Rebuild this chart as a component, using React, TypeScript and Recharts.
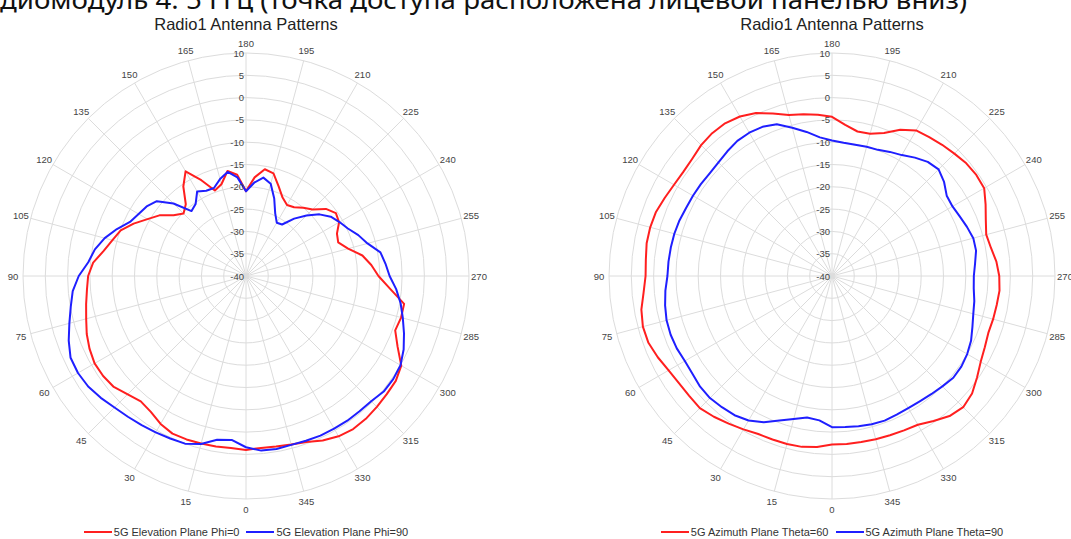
import {
  PolarAngleAxis,
  PolarGrid,
  PolarRadiusAxis,
  Radar,
  RadarChart,
} from "recharts";

// angles in degrees, 5° step
const angles = [
  0, 5, 10, 15, 20, 25, 30, 35, 40, 45, 50, 55, 60, 65, 70, 75, 80, 85, 90, 95,
  100, 105, 110, 115, 120, 125, 130, 135, 140, 145, 150, 155, 160, 165, 170,
  175, 180, 185, 190, 195, 200, 205, 210, 215, 220, 225, 230, 235, 240, 245,
  250, 255, 260, 265, 270, 275, 280, 285, 290, 295, 300, 305, 310, 315, 320,
  325, 330, 335, 340, 345, 350, 355,
];

// left chart: 5G elevation plane (dB)
const elevPhi0 = [
  -1.0, -1.3, -1.2, -1.1, -1.0, -1.0, -1.7, -2.8, -3.3, -2.5, -1.3, -0.9, -0.8,
  -1.3, -2.0, -2.9, -3.6, -4.2, -4.6, -5.6, -7.6, -9.0, -10.1, -12.2, -14.5,
  -16.3, -18.8, -20.2, -19.0, -15.5, -12.9, -16.3, -19.6, -18.7, -16.1, -17.2,
  -21.0, -17.8, -15.7, -16.2, -18.6, -20.6, -21.6, -21.2, -20.0, -18.9, -16.6,
  -15.4, -15.9, -17.5, -18.0, -16.3, -13.5, -11.8, -10.3, -7.6, -4.0, -4.0,
  -4.4, -2.5, 0.2, 1.0, 1.2, 1.5, 1.8, 1.9, 1.5, 0.7, -0.4, -0.9, -1.2, -1.3,
];
const elevPhi90 = [
  -1.6, -3.1, -2.7, -1.0, 0.0, 0.2, 0.5, 0.8, 1.2, 1.7, 2.5, 3.2, 3.5, 3.4, 2.3,
  1.0, -0.1, -1.0, -2.5, -4.5, -5.6, -7.2, -9.2, -11.3, -12.2, -12.8, -13.9,
  -17.0, -21.0, -20.3, -18.1, -18.9, -19.0, -17.5, -16.3, -17.8, -21.0, -19.0,
  -17.6, -18.6, -21.5, -24.5, -26.2, -25.9, -23.2, -20.8, -18.5, -16.8, -15.8,
  -14.8, -13.2, -11.8, -9.4, -8.6, -7.8, -6.2, -4.8, -3.6, -2.3, -1.0, 0.0, 0.3,
  0.3, -0.3, -0.4, -0.4, -0.5, -0.5, -0.7, -0.8, -0.6, -0.7,
];

// right chart: 5G azimuth plane (dB)
const aziTheta60 = [
  -2.2, -1.5, -1.1, -1.0, -1.0, -0.9, -0.3, 0.4, 1.2, 1.9, 1.8, 1.9, 2.3, 3.1,
  3.8, 3.9, 3.4, 2.4, 1.8, 1.9, 2.2, 2.2, 2.0, 1.4, 0.9, 0.7, 0.9, 1.5, 1.8, 1.8,
  1.3, 0.3, -1.2, -2.6, -3.2, -3.7, -4.3, -6.0, -7.1, -7.0, -5.9, -3.8, -2.3,
  -2.0, -1.6, -1.2, -0.7, -0.5, -0.6, -2.0, -3.3, -4.2, -3.8, -3.0, -2.5, -2.3,
  -2.5, -2.6, -2.7, -2.2, -1.5, -0.3, 1.0, 1.6, 1.0, -0.3, -1.5, -1.8, -2.0,
  -2.1, -2.2, -2.2,
];
const aziTheta90 = [
  -6.1, -7.5, -7.8, -6.8, -5.5, -3.8, -2.6, -1.9, -1.6, -1.3, -1.4, -1.8, -1.9,
  -1.6, -1.5, -1.6, -2.0, -2.5, -3.1, -3.2, -3.3, -3.4, -3.6, -3.9, -4.0, -4.1,
  -4.2, -4.0, -3.5, -3.0, -2.9, -3.1, -3.8, -5.6, -7.2, -8.8, -9.6, -10.0, -10.1,
  -10.0, -9.9, -9.3, -8.7, -7.6, -6.6, -6.2, -7.2, -8.6, -8.8, -8.4, -7.8, -7.2,
  -7.2, -7.8, -8.2, -8.1, -7.6, -7.2, -6.5, -5.6, -5.0, -4.6, -4.5, -5.0, -5.4,
  -5.7, -5.8, -5.7, -5.5, -5.6, -5.8, -6.0,
];

const angleTicks = [
  0, 15, 30, 45, 60, 75, 90, 105, 120, 135, 150, 165, 180, 195, 210, 225, 240,
  255, 270, 285, 300, 315, 330, 345,
];
const radiusTicks = [-40, -35, -30, -25, -20, -15, -10, -5, 0, 5, 10];

const RED = "#ff1f1f";
const BLUE = "#1f1fff";
const FONT = "'Liberation Sans', Arial, sans-serif";

const AngleTick = (props: any) => {
  const { x, y, payload } = props;
  return (
    <text
      x={x}
      y={y}
      textAnchor="middle"
      dominantBaseline="central"
      fontSize={9.5}
      fontFamily={FONT}
      fill="#444"
    >
      {payload.value}
    </text>
  );
};

const RadiusTick = (props: any) => {
  const { x, y, payload } = props;
  return (
    <text
      x={x - 2}
      y={y}
      textAnchor="end"
      dominantBaseline="central"
      fontSize={9.5}
      fontFamily={FONT}
      fill="#444"
    >
      {payload.value}
    </text>
  );
};

function PolarPanel({ left, title, a, b, nameA, nameB }) {
  const data = angles.map((ang, i) => ({ angle: ang, a: a[i], b: b[i] }));
  return (
    <div style={{ position: "absolute", left, top: 0, width: 492, height: 539 }}>
      <div
        style={{
          position: "absolute",
          top: 15,
          left: 0,
          width: 492,
          textAlign: "center",
          fontFamily: FONT,
          fontSize: 16.5,
          color: "#222",
        }}
      >
        {title}
      </div>
      <RadarChart
        width={492}
        height={539}
        data={data}
        cx={246}
        cy={276}
        outerRadius={223}
        startAngle={-90}
        endAngle={-450}
        style={{ position: "absolute", left: 0, top: 0 }}
      >
        <PolarGrid gridType="circle" stroke="#dcdcdc" />
        <PolarAngleAxis
          dataKey="angle"
          type="number"
          domain={[0, 360]}
          ticks={angleTicks}
          tick={AngleTick}
          tickLine={false}
          axisLine={false}
          tickSize={10}
        />
        <PolarRadiusAxis
          angle={90}
          type="number"
          domain={[-40, 10]}
          ticks={radiusTicks}
          tickCount={11}
          tick={RadiusTick}
          axisLine={false}
          tickLine={false}
          allowDataOverflow
        />
        <Radar
          name={nameA}
          dataKey="a"
          stroke={RED}
          strokeWidth={2}
          strokeLinejoin="round"
          fill="none"
          fillOpacity={0}
          dot={false}
          isAnimationActive={false}
        />
        <Radar
          name={nameB}
          dataKey="b"
          stroke={BLUE}
          strokeWidth={2}
          strokeLinejoin="round"
          fill="none"
          fillOpacity={0}
          dot={false}
          isAnimationActive={false}
        />
      </RadarChart>
      <div
        style={{
          position: "absolute",
          top: 526,
          left: 0,
          width: 492,
          display: "flex",
          justifyContent: "center",
          alignItems: "center",
          fontFamily: FONT,
          fontSize: 11,
          color: "#333",
          whiteSpace: "nowrap",
        }}
      >
        <span style={{ width: 28, height: 2, background: RED, marginRight: 2 }} />
        <span style={{ marginRight: 7 }}>{nameA}</span>
        <span style={{ width: 28, height: 2, background: BLUE, marginRight: 2 }} />
        <span>{nameB}</span>
      </div>
    </div>
  );
}

export default function App() {
  return (
    <div
      style={{
        position: "absolute",
        left: 0,
        top: 0,
        width: 1071,
        height: 539,
        overflow: "hidden",
        background: "#fff",
      }}
    >
      <svg
        width={1071}
        height={20}
        style={{ position: "absolute", left: 0, top: 0 }}
      >
        <text
          x={0}
          y={9}
          fontSize={26}
          fontFamily="'Noto Sans', 'Open Sans', sans-serif"
          fill="#111"
          textLength={967}
          lengthAdjust="spacingAndGlyphs"
        >
          диомодуль 4: 5 ГГц (точка доступа расположена лицевой панелью вниз)
        </text>
      </svg>
      <PolarPanel
        left={0}
        title="Radio1 Antenna Patterns"
        a={elevPhi0}
        b={elevPhi90}
        nameA="5G Elevation Plane Phi=0"
        nameB="5G Elevation Plane Phi=90"
      />
      <PolarPanel
        left={586}
        title="Radio1 Antenna Patterns"
        a={aziTheta60}
        b={aziTheta90}
        nameA="5G Azimuth Plane Theta=60"
        nameB="5G Azimuth Plane Theta=90"
      />
    </div>
  );
}
